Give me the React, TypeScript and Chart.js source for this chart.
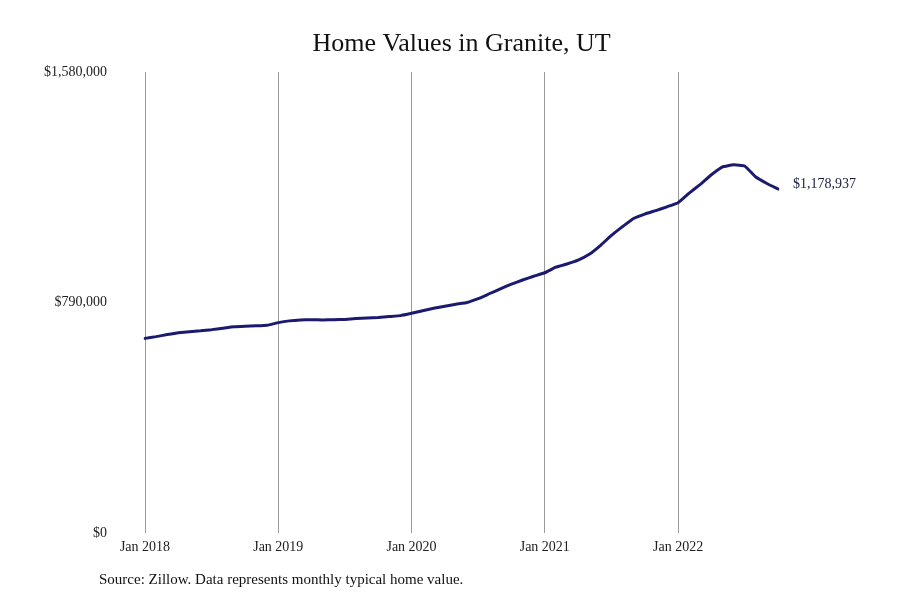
import React, { useRef, useEffect } from "react";
import Chart from "chart.js/auto";

const chartTitle = "Home Values in Granite, UT";
const sourceNote = "Source: Zillow. Data represents monthly typical home value.";

const monthNames = ["Jan", "Feb", "Mar", "Apr", "May", "Jun", "Jul", "Aug", "Sep", "Oct", "Nov", "Dec"];
const yearList = [2018, 2019, 2020, 2021, 2022];

// typical home value, Jan 2018 .. Oct 2022
const homeValues = [
  667000, 673000, 680000, 686000, 690000, 693000, 697000, 702000, 707000, 709000, 710000, 712000,
  721000, 727000, 730000, 731000, 730000, 731000, 732000, 735000, 737000, 739000, 742000, 745000,
  753000, 762000, 770000, 777000, 784000, 790000, 803000, 820000, 837000, 853000, 867000, 880000,
  892000, 911000, 922000, 935000, 955000, 985000, 1020000, 1050000, 1078000, 1093000, 1105000, 1118000,
  1132000, 1165000, 1195000, 1228000, 1255000, 1262000, 1258000, 1220000, 1198000, 1178937,
];

const yTicks = [0, 790000, 1580000];

const monthLabels = yearList
  .flatMap((y) => monthNames.map((m) => `${m} ${y}`))
  .slice(0, homeValues.length);

const money = (v: number) => "$" + Math.round(v).toLocaleString("en-US");

const serif = "'Liberation Serif', 'Times New Roman', serif";

const textPlugin = {
  id: "textPlugin",
  afterDraw(chart: any) {
    const { ctx, chartArea } = chart;
    ctx.save();
    ctx.fillStyle = "#111";
    ctx.font = `26px ${serif}`;
    ctx.textAlign = "center";
    ctx.textBaseline = "middle";
    ctx.fillText(chartTitle, (chartArea.left + chartArea.right) / 2, 44);

    ctx.font = `15px ${serif}`;
    ctx.textAlign = "left";
    ctx.fillText(sourceNote, 99, 580);

    const meta = chart.getDatasetMeta(0);
    const last = meta.data[meta.data.length - 1];
    ctx.font = `14px ${serif}`;
    ctx.fillStyle = "#1a1a40";
    ctx.fillText(money(homeValues[homeValues.length - 1]), last.x + 15, last.y - 5);
    ctx.restore();
  },
};

const isJan = (i: number) => !!monthLabels[i] && monthLabels[i].startsWith("Jan");

const App: React.FC = () => {
  const chartRef = useRef<HTMLCanvasElement | null>(null);

  useEffect(() => {
    const config: any = {
      type: "line",
      data: {
        labels: monthLabels,
        datasets: [
          {
            label: "Home value",
            data: homeValues,
            borderColor: "#1b1a6e",
            borderWidth: 3,
            pointRadius: 0,
            tension: 0.1,
            borderJoinStyle: "round",
            borderCapStyle: "round",
          },
        ],
      },
      options: {
        animation: false,
        responsive: true,
        maintainAspectRatio: false,
        layout: { padding: { top: 72, left: 42, right: 122, bottom: 40 } },
        plugins: {
          legend: { display: false },
          title: { display: false },
          tooltip: { enabled: false },
        },
        scales: {
          x: {
            border: { display: false },
            grid: {
              drawTicks: false,
              color: (ctx: any) => {
                const i = ctx.tick ? ctx.tick.value : ctx.index;
                return isJan(i) ? "#9a9a9a" : "rgba(0,0,0,0)";
              },
              lineWidth: 1,
            },
            ticks: {
              autoSkip: false,
              maxRotation: 0,
              padding: 6,
              color: "#222",
              font: { family: serif, size: 14 },
              callback: (_v: any, i: number) => (isJan(i) ? monthLabels[i] : ""),
            },
            afterFit: (scale: any) => {
              scale.height = 27;
            },
          },
          y: {
            min: 0,
            max: 1580000,
            border: { display: false },
            grid: { display: false, drawTicks: false },
            afterBuildTicks: (scale: any) => {
              scale.ticks = yTicks.map((v) => ({ value: v }));
            },
            ticks: {
              padding: 38,
              color: "#222",
              font: { family: serif, size: 14 },
              callback: (v: any) => money(Number(v)),
            },
            afterFit: (scale: any) => {
              scale.width = 103;
            },
          },
        },
      },
      plugins: [textPlugin],
    };

    const myChart = new Chart(chartRef.current!.getContext("2d")!, config);
    return () => {
      myChart.destroy();
    };
  }, []);

  return (
    <div style={{ position: "fixed", left: 0, top: 0, width: "900px", height: "600px", background: "#fff" }}>
      <canvas ref={chartRef}></canvas>
    </div>
  );
};

export default App;
